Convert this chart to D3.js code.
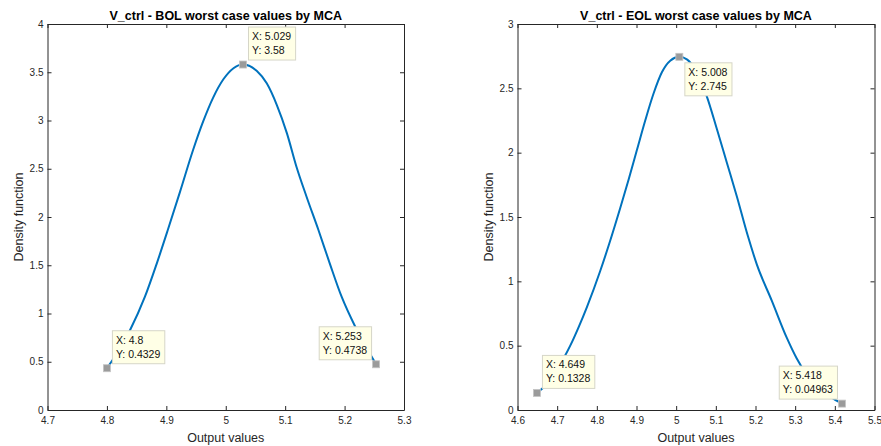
<!DOCTYPE html>
<html>
<head>
<meta charset="utf-8">
<script src="https://cdn.jsdelivr.net/npm/d3@7"></script>
<style>
  body { margin: 0; background: #fff; }
  svg { display: block; font-family: "Liberation Sans", Arial, Helvetica, sans-serif; }
</style>
</head>
<body>
<svg id="chart" width="881" height="446"></svg>
<script>
// BOL density curve
var bolX = [4.800, 4.820, 4.839, 4.864, 4.884, 4.903, 4.923, 4.945, 4.962, 4.979, 4.996, 5.013, 5.029,
            5.052, 5.069, 5.086, 5.103, 5.119, 5.136, 5.156, 5.175, 5.195, 5.218, 5.236, 5.253];
var bolY = [0.433, 0.616, 0.829, 1.174, 1.52, 1.875, 2.26, 2.694, 2.99, 3.24, 3.427, 3.542, 3.58,
            3.515, 3.385, 3.16, 2.867, 2.521, 2.21, 1.865, 1.52, 1.174, 0.863, 0.655, 0.474];

// EOL density curve
var eolX = [4.649, 4.675, 4.695, 4.716, 4.733, 4.755, 4.775, 4.8085, 4.831, 4.859, 4.880, 4.901, 4.922, 4.943, 4.964, 4.985, 5.008,
            5.027, 5.050, 5.077, 5.103, 5.128, 5.153, 5.181, 5.2035, 5.241, 5.279, 5.304, 5.330, 5.360, 5.390, 5.418];
var eolY = [0.133, 0.205, 0.29, 0.40, 0.50, 0.65, 0.80, 1.08, 1.29, 1.57, 1.79, 2.02, 2.25, 2.46, 2.625, 2.715, 2.745,
            2.725, 2.635, 2.44, 2.18, 1.92, 1.66, 1.35, 1.13, 0.85, 0.56, 0.40, 0.27, 0.17, 0.10, 0.0496];

// data tips
var bolTipX = [4.8, 5.029, 5.253];
var bolTipY = [0.4329, 3.58, 0.4738];
var bolTipSide = ["ne", "ne", "nw"];
var eolTipX = [4.649, 5.008, 5.418];
var eolTipY = [0.1328, 2.745, 0.04963];
var eolTipSide = ["ne", "se", "nw"];

// axes ticks
var bolXTicks = [4.7, 4.8, 4.9, 5, 5.1, 5.2, 5.3];
var bolYTicks = [0, 0.5, 1, 1.5, 2, 2.5, 3, 3.5, 4];
var eolXTicks = [4.6, 4.7, 4.8, 4.9, 5, 5.1, 5.2, 5.3, 5.4, 5.5];
var eolYTicks = [0, 0.5, 1, 1.5, 2, 2.5, 3];

var svg = d3.select("#chart");
svg.append("rect").attr("width", 881).attr("height", 446).attr("fill", "#fff");

var axisColor = "#262626";

/**
 * Draw one MATLAB-like panel
 */
function drawPanel(opts) {
    var x = d3.scaleLinear().domain(opts.xDomain).range([opts.left, opts.right]);
    var y = d3.scaleLinear().domain(opts.yDomain).range([opts.bottom, opts.top]);
    var g = svg.append("g");

    // box with inward ticks on all four sides
    var bottomAxis = d3.axisBottom(x).tickValues(opts.xTicks).tickSizeInner(-4).tickSizeOuter(0).tickPadding(7).tickFormat(function (d) { return String(d); });
    var topAxis = d3.axisTop(x).tickValues(opts.xTicks).tickSizeInner(-4).tickSizeOuter(0).tickFormat("");
    var leftAxis = d3.axisLeft(y).tickValues(opts.yTicks).tickSizeInner(-4).tickSizeOuter(0).tickPadding(4).tickFormat(function (d) { return String(d); });
    var rightAxis = d3.axisRight(y).tickValues(opts.yTicks).tickSizeInner(-4).tickSizeOuter(0).tickFormat("");

    g.append("g").attr("transform", "translate(0," + opts.bottom + ")").call(bottomAxis);
    g.append("g").attr("transform", "translate(0," + opts.top + ")").call(topAxis);
    g.append("g").attr("transform", "translate(" + opts.left + ",0)").call(leftAxis);
    g.append("g").attr("transform", "translate(" + opts.right + ",0)").call(rightAxis);

    g.selectAll(".domain").attr("stroke", axisColor).attr("stroke-width", 1);
    g.selectAll(".tick line").attr("stroke", axisColor).attr("stroke-width", 1);
    g.selectAll(".tick text").attr("fill", axisColor).attr("font-size", 10).attr("font-family", null);

    // curve
    var pts = opts.xs.map(function (v, i) { return [v, opts.ys[i]]; });
    var line = d3.line().x(function (d) { return x(d[0]); }).y(function (d) { return y(d[1]); }).curve(d3.curveMonotoneX);
    g.append("path").datum(pts)
        .attr("d", line)
        .attr("fill", "none")
        .attr("stroke", "#0072bd")
        .attr("stroke-width", 2);

    // title and labels
    var cx = (opts.left + opts.right) / 2;
    g.append("text").attr("x", cx).attr("y", 19.5).attr("text-anchor", "middle")
        .attr("font-size", 12.5).attr("font-weight", "bold").attr("fill", "#000").text(opts.title);
    g.append("text").attr("x", cx).attr("y", 441.5).attr("text-anchor", "middle")
        .attr("font-size", 12.5).attr("fill", axisColor).text("Output values");
    g.append("text").attr("transform", "translate(" + opts.yLabelX + "," + ((opts.top + opts.bottom) / 2) + ") rotate(-90)")
        .attr("text-anchor", "middle").attr("font-size", 12.5).attr("fill", axisColor).text("Density function");

    // data tips
    opts.tipX.forEach(function (tx, i) {
        var mx = x(tx), my = y(opts.tipY[i]);
        var tip = g.append("g");
        var box = tip.append("rect").attr("fill", "#ffffe6").attr("stroke", "#d6d6c8").attr("stroke-width", 1);
        var t1 = tip.append("text").attr("font-size", 10.5).attr("fill", "#111").text("X: " + tx);
        var t2 = tip.append("text").attr("font-size", 10.5).attr("fill", "#111").text("Y: " + opts.tipY[i]);
        var w = Math.max(t1.node().getComputedTextLength(), t2.node().getComputedTextLength()) + 8;
        var h = 33;
        var bx, by;
        if (opts.tipSide[i] === "ne") { bx = mx + 5; by = my - 5 - h; }
        else if (opts.tipSide[i] === "se") { bx = mx + 5; by = my + 5.5; }
        else { bx = mx - 5 - w; by = my - 5 - h; }
        box.attr("x", bx + 0.5).attr("y", by + 0.5).attr("width", w).attr("height", h);
        t1.attr("x", bx + 4).attr("y", by + 13.5);
        t2.attr("x", bx + 4).attr("y", by + 27.5);
        g.append("rect").attr("x", mx - 3.5).attr("y", my - 3.5).attr("width", 7).attr("height", 7)
            .attr("fill", "#9b9b9b").attr("stroke", "#c4c4c4").attr("stroke-width", 0.8);
    });
}

drawPanel({
    left: 47.5, right: 404, top: 24, bottom: 410,
    xDomain: [4.7, 5.3], yDomain: [0, 4],
    xTicks: bolXTicks, yTicks: bolYTicks,
    xs: bolX, ys: bolY,
    tipX: bolTipX, tipY: bolTipY, tipSide: bolTipSide,
    title: "V_ctrl - BOL worst case values by MCA",
    yLabelX: 23
});

drawPanel({
    left: 517.5, right: 874.5, top: 24, bottom: 410,
    xDomain: [4.6, 5.5], yDomain: [0, 3],
    xTicks: eolXTicks, yTicks: eolYTicks,
    xs: eolX, ys: eolY,
    tipX: eolTipX, tipY: eolTipY, tipSide: eolTipSide,
    title: "V_ctrl - EOL worst case values by MCA",
    yLabelX: 493
});
</script>
</body>
</html>
